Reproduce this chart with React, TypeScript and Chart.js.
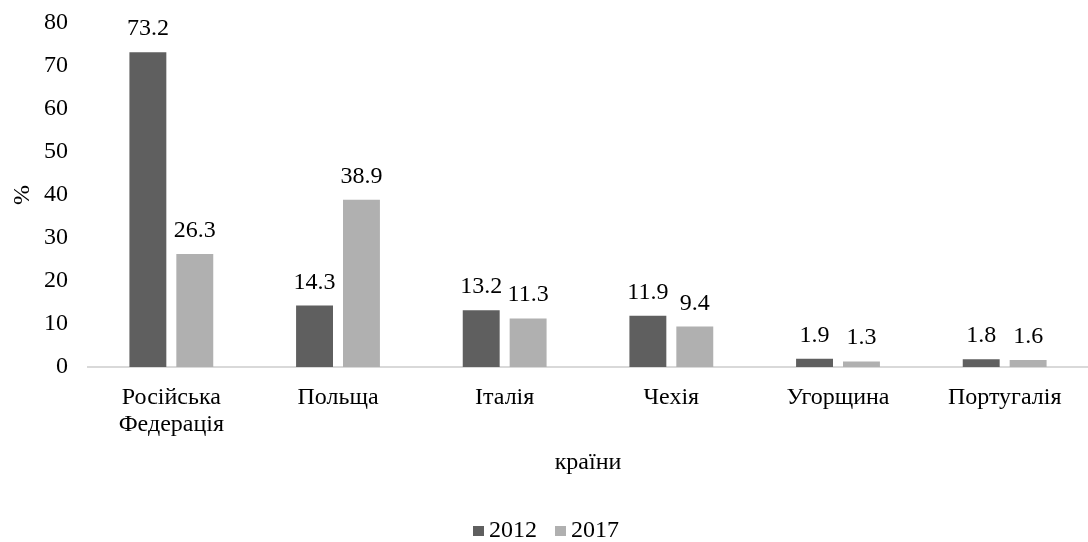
import React, { useEffect, useRef } from "react";
import { Chart, registerables } from "chart.js";

Chart.register(...registerables);

const categories: (string | string[])[] = [
  ["Російська", "Федерація"],
  "Польща",
  "Італія",
  "Чехія",
  "Угорщина",
  "Португалія",
];
const series2012 = [73.2, 14.3, 13.2, 11.9, 1.9, 1.8];
const series2017 = [26.3, 38.9, 11.3, 9.4, 1.3, 1.6];
const seriesLabels = ["2012", "2017"];
const seriesColors = ["#5f5f5f", "#b0b0b0"];
const yTicks = [0, 10, 20, 30, 40, 50, 60, 70, 80];

const FONT = "'Liberation Serif', 'Times New Roman', serif";
const FS = 24;

const dataLabelPlugin = {
  id: "dataLabels",
  afterDatasetsDraw(chart: any) {
    const ctx = chart.ctx;
    ctx.save();
    ctx.font = `${FS}px ${FONT}`;
    ctx.fillStyle = "#000";
    ctx.textAlign = "center";
    ctx.textBaseline = "alphabetic";
    chart.data.datasets.forEach((ds: any, i: number) => {
      const meta = chart.getDatasetMeta(i);
      meta.data.forEach((bar: any, j: number) => {
        ctx.fillText(Number(ds.data[j]).toFixed(1), bar.x, bar.y - 17);
      });
    });
    ctx.restore();
  },
};

const legendPlugin = {
  id: "customLegend",
  afterDraw(chart: any) {
    const ctx = chart.ctx;
    ctx.save();
    ctx.font = `${FS}px ${FONT}`;
    ctx.textBaseline = "alphabetic";
    ctx.textAlign = "left";
    const box = 11;
    const gap = 5;
    const itemGap = 18;
    const items = chart.data.datasets.map((ds: any) => ({
      label: ds.label,
      color: ds.backgroundColor,
      w: ctx.measureText(ds.label).width,
    }));
    const total = items.reduce((s: number, it: any) => s + box + gap + it.w, 0) + itemGap * (items.length - 1);
    let x = chart.width / 2 - total / 2 + 2;
    const baseline = 537;
    items.forEach((it: any) => {
      ctx.fillStyle = it.color;
      ctx.fillRect(x, baseline - 11, box, 10);
      x += box + gap;
      ctx.fillStyle = "#000";
      ctx.fillText(it.label, x, baseline);
      x += it.w + itemGap;
    });
    ctx.restore();
  },
};

export default function App() {
  const ref = useRef<HTMLCanvasElement | null>(null);
  useEffect(() => {
    let chart: any = null;
    let cancelled = false;
    const make = () => {
      if (cancelled || !ref.current) return;
      chart = new Chart(ref.current, {
        type: "bar",
        data: {
          labels: categories as any,
          datasets: [
            {
              label: seriesLabels[0],
              data: series2012,
              backgroundColor: seriesColors[0],
              barPercentage: 0.787,
              categoryPercentage: 0.563,
            },
            {
              label: seriesLabels[1],
              data: series2017,
              backgroundColor: seriesColors[1],
              barPercentage: 0.787,
              categoryPercentage: 0.563,
            },
          ],
        },
        options: {
          animation: false,
          responsive: false,
          maintainAspectRatio: false,
          layout: { padding: { top: 23, right: 0, left: 0, bottom: 65 } },
          plugins: {
            tooltip: { enabled: false },
            legend: { display: false },
          },
          scales: {
            x: {
              grid: { display: false, drawTicks: false },
              border: { display: true, color: "#d9d9d9", width: 2 },
              ticks: {
                color: "#000",
                font: { family: FONT, size: FS, lineHeight: 1.13 },
                padding: 17,
                maxRotation: 0,
                autoSkip: false,
              },
              title: {
                display: true,
                text: "країни",
                color: "#000",
                font: { family: FONT, size: FS },
                padding: { top: 0, bottom: 0 },
              },
              afterFit(scale: any) {
                scale.height = 110;
                scale.paddingLeft = 0;
                scale.paddingRight = 0;
              },
            },
            y: {
              min: 0,
              max: 80,
              afterBuildTicks(scale: any) {
                scale.ticks = yTicks.map((v) => ({ value: v }));
              },
              grid: { display: false, drawTicks: false },
              border: { display: false },
              ticks: {
                color: "#000",
                font: { family: FONT, size: FS },
                padding: 20,
              },
              title: {
                display: true,
                text: "%",
                color: "#000",
                font: { family: FONT, size: FS },
                padding: { top: 8, bottom: 0 },
              },
              afterFit(scale: any) {
                scale.width = 88;
                scale.paddingTop = 0;
                scale.paddingBottom = 0;
              },
            },
          },
        },
        plugins: [dataLabelPlugin, legendPlugin],
      });
    };
    const fonts: any = (document as any).fonts;
    if (fonts && fonts.load) {
      fonts.load(`${FS}px "Liberation Serif"`).then(make, make);
    } else {
      make();
    }
    return () => {
      cancelled = true;
      if (chart) chart.destroy();
    };
  }, []);
  return (
    <div style={{ position: "absolute", left: 0, top: 0, width: 1088, height: 542, background: "#fff", fontFamily: FONT }}>
      <span style={{ position: "absolute", left: 0, top: 0, opacity: 0, fontSize: FS, fontFamily: FONT }}>Російська 0123</span>
      <canvas ref={ref} width={1088} height={542} style={{ position: "absolute", left: 0, top: 0, width: 1088, height: 542 }} />
    </div>
  );
}
